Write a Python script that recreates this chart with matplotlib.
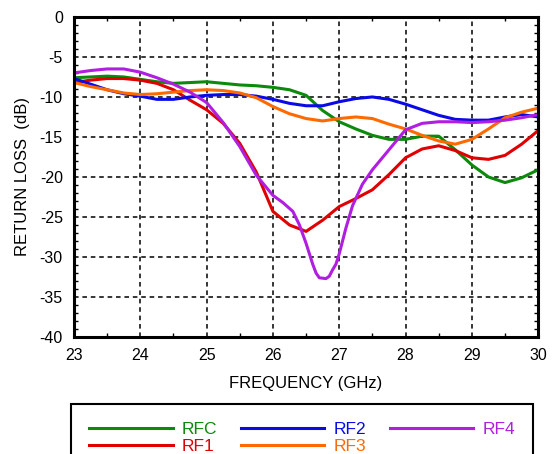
import matplotlib.pyplot as plt
from matplotlib.ticker import MultipleLocator

plt.rcParams['font.family'] = ['Liberation Sans', 'DejaVu Sans']
plt.rcParams['axes.unicode_minus'] = False

# frequency grid (GHz)
freq = [23, 23.25, 23.5, 23.75, 24, 24.25, 24.5, 24.75, 25, 25.25, 25.5, 25.75,
        26, 26.25, 26.5, 26.75, 27, 27.25, 27.5, 27.75, 28, 28.25, 28.5, 28.75,
        29, 29.25, 29.5, 29.75, 30]

rfc = [-7.6, -7.5, -7.4, -7.5, -7.8, -8.1, -8.3, -8.2, -8.1, -8.3, -8.5, -8.6,
       -8.8, -9.1, -9.8, -11.7, -13.1, -14.0, -14.8, -15.3, -15.3, -14.9, -14.9, -16.6,
       -18.5, -20.0, -20.7, -20.1, -19.1]
rf1 = [-8.2, -7.9, -7.7, -7.7, -7.9, -8.3, -9.1, -10.4, -11.6, -13.3, -15.8, -19.4,
       -24.3, -26.0, -26.8, -25.4, -23.7, -22.7, -21.6, -19.7, -17.6, -16.5, -16.1, -16.7,
       -17.6, -17.8, -17.3, -15.9, -14.2]
rf2 = [-7.7, -8.4, -9.1, -9.6, -9.9, -10.3, -10.3, -10.0, -9.8, -9.7, -9.7, -9.9,
       -10.3, -10.8, -11.1, -11.1, -10.6, -10.2, -10.0, -10.3, -10.9, -11.6, -12.3, -12.8,
       -12.9, -12.9, -12.5, -12.2, -12.5]
rf3 = [-8.2, -8.7, -9.1, -9.5, -9.7, -9.6, -9.4, -9.2, -9.1, -9.2, -9.5, -10.1,
       -11.2, -12.1, -12.7, -13.0, -12.7, -12.5, -12.7, -13.4, -14.0, -14.8, -15.5, -15.9,
       -15.3, -14.0, -12.6, -11.9, -11.4]

freq4 = [23, 23.25, 23.5, 23.75, 24, 24.25, 24.5, 24.75, 25, 25.25, 25.5, 25.75,
         26, 26.15, 26.3, 26.4, 26.5, 26.6, 26.65, 26.7, 26.8, 26.85, 26.9, 26.95,
         27, 27.05, 27.1, 27.2, 27.35, 27.5, 27.75, 28, 28.25, 28.5, 28.75, 29,
         29.25, 29.5, 29.75, 30]
rf4 = [-7.0, -6.7, -6.5, -6.5, -6.9, -7.6, -8.4, -9.4, -10.7, -13.2, -16.2, -19.8,
       -22.3, -23.2, -24.3, -26.0, -28.3, -30.9, -32.0, -32.6, -32.7, -32.4, -31.6, -30.9,
       -29.6, -28.0, -26.4, -23.6, -20.9, -19.1, -16.6, -14.1, -13.3, -13.1, -13.1, -13.2,
       -13.1, -12.9, -12.6, -12.2]

fig = plt.figure(figsize=(5.52, 4.54), dpi=100)
ax = fig.add_axes([0.134, 0.2577, 0.841, 0.705])

lw = 2.2
ax.plot(freq, rfc, color='#0b8a0b', lw=lw, label='RFC')
ax.plot(freq, rf1, color='#e00000', lw=lw, label='RF1')
ax.plot(freq, rf2, color='#0a0ae6', lw=lw, label='RF2')
ax.plot(freq, rf3, color='#ff6a00', lw=lw, label='RF3')
ax.plot(freq4, rf4, color='#b01ee0', lw=lw, label='RF4')

ax.set_xlim(23, 30)
ax.set_ylim(-40, 0)
ax.xaxis.set_major_locator(MultipleLocator(1))
ax.xaxis.set_minor_locator(MultipleLocator(0.5))
ax.yaxis.set_major_locator(MultipleLocator(5))
ax.yaxis.set_minor_locator(MultipleLocator(1))
ax.tick_params(which='both', direction='in', top=True, right=True, labelsize=11.5)
ax.tick_params(which='major', length=0, pad=8)
ax.tick_params(which='minor', length=3, width=1)
ax.grid(True, which='major', color='black', lw=1.1, linestyle=(0, (3, 2.5)))
for s in ax.spines.values():
    s.set_linewidth(2.2)

ax.set_xlabel('FREQUENCY (GHz)', fontsize=12, labelpad=9)
ax.set_ylabel('RETURN LOSS  (dB)', fontsize=12, labelpad=7)

leg = fig.legend(loc='upper left', bbox_to_anchor=(71 / 552, 0, 462 / 552, 1 - 404 / 454),
                 ncol=3, mode='expand', fontsize=12.5, handlelength=4.8, handletextpad=0.5,
                 labelspacing=0.08, borderpad=1.05, borderaxespad=0, fancybox=False,
                 edgecolor='black', framealpha=1)
leg.get_frame().set_linewidth(1.5)
for line, text in zip(leg.get_lines(), leg.get_texts()):
    text.set_color(line.get_color())

fig.savefig('out.png', dpi=100)
